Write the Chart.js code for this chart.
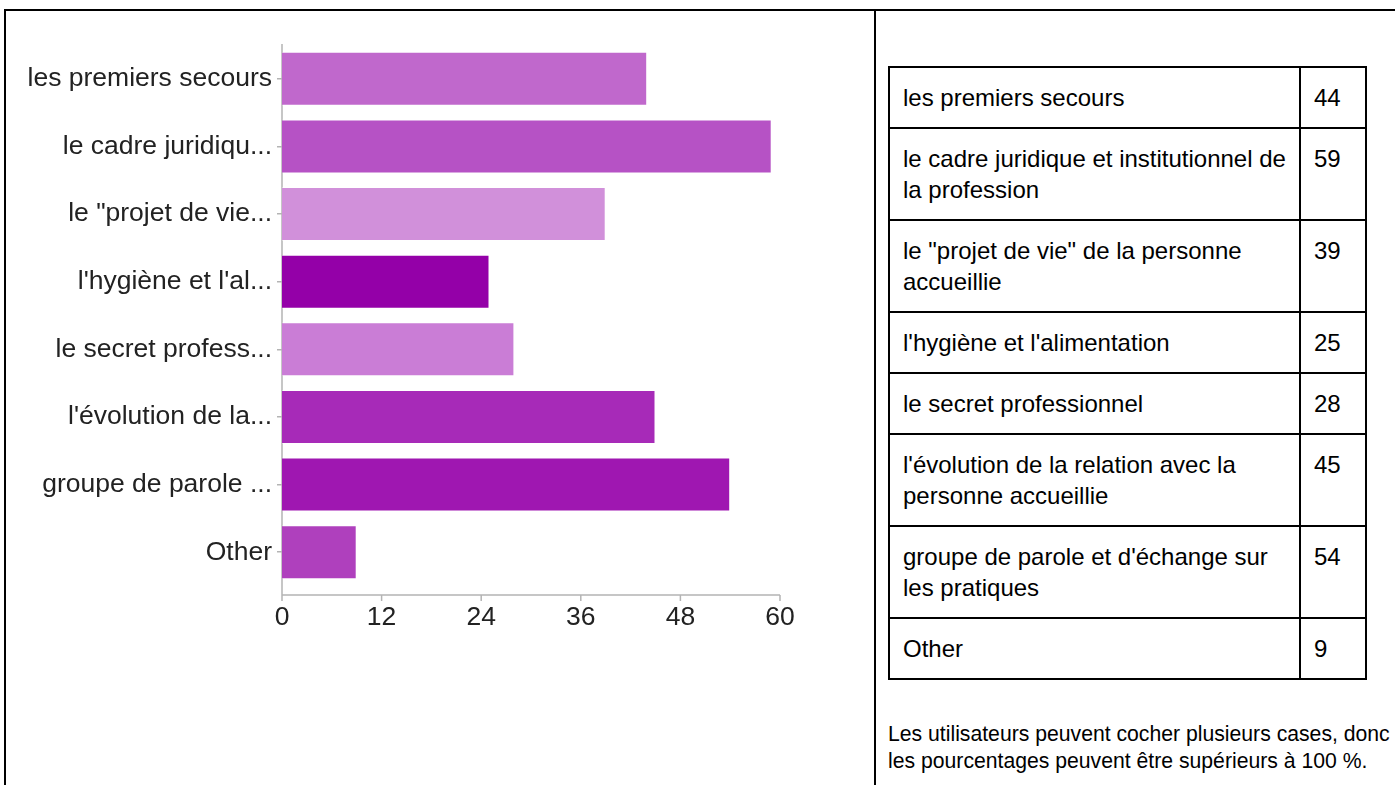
<!DOCTYPE html>
<html lang="fr">
<head>
<meta charset="UTF-8">
<title>Réponses</title>
<script src="https://cdn.jsdelivr.net/npm/chart.js"></script>
<style>
  html, body { margin: 0; padding: 0; background: #fff; }
  body { width: 1395px; height: 785px; position: relative; overflow: hidden; font-family: "Liberation Sans", Arial, sans-serif; }
  .line { position: absolute; background: #000; }
  .chart-box { position: absolute; left: 0; top: 0; width: 874px; height: 785px; }
  table.counts { position: absolute; left: 888px; top: 66px; width: 479px; border-collapse: collapse; font-size: 24px; line-height: 31px; color: #000; }
  table.counts td { border: 2px solid #000; padding: 14px 10px 14px 13px; vertical-align: top; }
  table.counts td.num { width: 41px; padding-left: 13px; }
  .note { position: absolute; left: 888px; top: 720px; font-size: 21.2px; line-height: 27px; color: #000; }
</style>
</head>
<body>
<div class="line" style="left:4px; top:9px; width:1391px; height:2px;"></div>
<div class="line" style="left:4px; top:9px; width:2px; height:776px;"></div>
<div class="line" style="left:874px; top:9px; width:2px; height:776px;"></div>

<div class="chart-box"><canvas id="bars"></canvas></div>

<table class="counts" id="counts"></table>
<div class="note">Les utilisateurs peuvent cocher plusieurs cases, donc<br>les pourcentages peuvent être supérieurs à 100 %.</div>

<script>
// full answer names (table) and the shortened ones shown on the axis
const categories = [
    'les premiers secours',
    'le cadre juridique et institutionnel de la profession',
    'le "projet de vie" de la personne accueillie',
    "l'hygiène et l'alimentation",
    'le secret professionnel',
    "l'évolution de la relation avec la personne accueillie",
    "groupe de parole et d'échange sur les pratiques",
    'Other'
];
const axisLabels = [
    'les premiers secours',
    'le cadre juridiqu...',
    'le "projet de vie...',
    "l'hygiène et l'al...",
    'le secret profess...',
    "l'évolution de la...",
    'groupe de parole ...',
    'Other'
];
const counts = [44, 59, 39, 25, 28, 45, 54, 9];
const xTicks = [0, 12, 24, 36, 48, 60];
const barColors = ['#c068cc', '#b652c5', '#d190da', '#9400a8', '#ca7dd6', '#a72ab8', '#9f17b1', '#af40bd'];

// table on the right
const table = document.getElementById('counts');
categories.forEach((name, i) => {
    const tr = document.createElement('tr');
    const a = document.createElement('td');
    a.textContent = name;
    const b = document.createElement('td');
    b.className = 'num';
    b.textContent = counts[i];
    tr.appendChild(a);
    tr.appendChild(b);
    table.appendChild(tr);
});

// baseline + vertical axis, the baseline sits a little under the last bar
const axisLines = {
    id: 'axisLines',
    beforeDatasetsDraw(chart) {
        const ctx = chart.ctx;
        const x = chart.scales.x;
        const area = chart.chartArea;
        const base = area.bottom + 9;
        const x0 = x.getPixelForValue(xTicks[0]);
        const x1 = x.getPixelForValue(xTicks[xTicks.length - 1]);
        ctx.save();
        ctx.strokeStyle = '#b4b4b4';
        ctx.lineWidth = 1.5;
        ctx.beginPath();
        ctx.moveTo(x0, area.top - 1);
        ctx.lineTo(x0, base);
        ctx.moveTo(x0, base);
        ctx.lineTo(x1, base);
        xTicks.forEach(v => {
            const px = x.getPixelForValue(v);
            ctx.moveTo(px, base);
            ctx.lineTo(px, base + 6);
        });
        ctx.stroke();
        ctx.restore();
    }
};

new Chart(document.getElementById('bars'), {
    type: 'bar',
    data: {
        labels: axisLabels,
        datasets: [{
            data: counts,
            backgroundColor: barColors,
            borderColor: 'rgba(255,255,255,0.35)',
            borderWidth: 1,
            categoryPercentage: 0.8,
            barPercentage: 1.0
        }]
    },
    options: {
        indexAxis: 'y',
        responsive: true,
        maintainAspectRatio: false,
        animation: false,
        layout: { padding: { top: 45, right: 94, left: 0, bottom: 0 } },
        plugins: { legend: { display: false }, tooltip: { enabled: false } },
        scales: {
            x: {
                min: 0,
                max: 60,
                afterBuildTicks: s => { s.ticks = xTicks.map(v => ({ value: v })); },
                afterFit: s => { s.height = 199; },
                grid: { display: false },
                border: { display: false },
                ticks: { color: '#222', padding: 8, font: { family: '"Liberation Sans", Arial, sans-serif', size: 26.5 } }
            },
            y: {
                afterFit: s => { s.width = 282; },
                border: { display: false },
                grid: { drawOnChartArea: false, offset: false, tickLength: 5, color: '#b4b4b4', lineWidth: 1.5 },
                ticks: { color: '#222', padding: 5, font: { family: '"Liberation Sans", Arial, sans-serif', size: 26.5 } }
            }
        }
    },
    plugins: [axisLines]
});
</script>
</body>
</html>
